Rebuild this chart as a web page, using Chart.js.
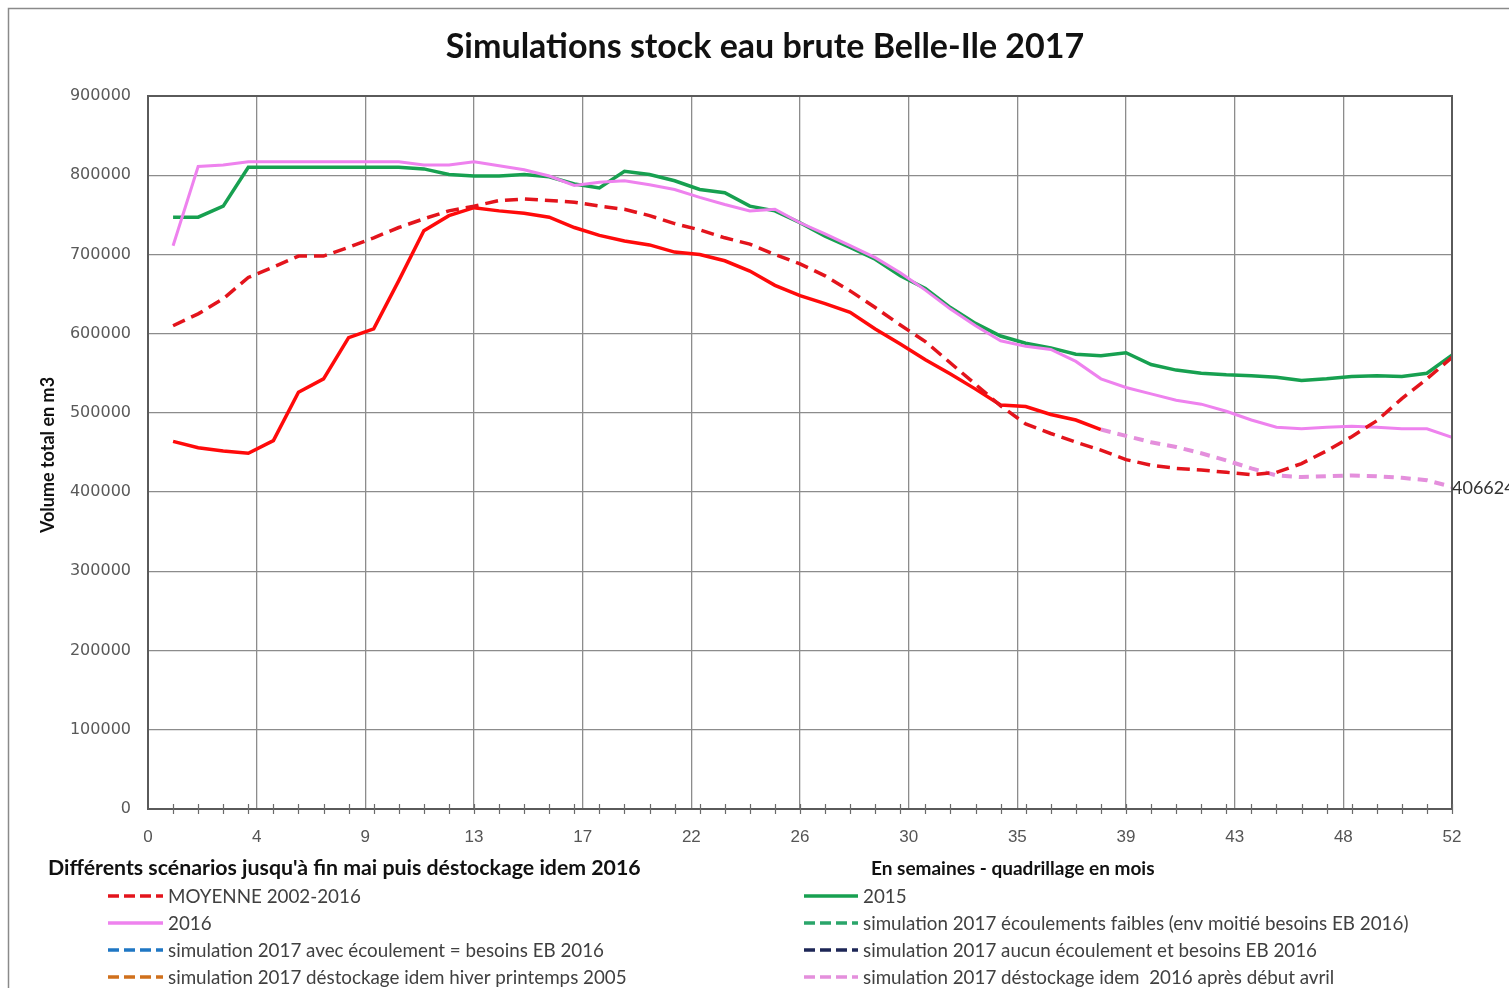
<!DOCTYPE html>
<html>
<head>
<meta charset="utf-8">
<title>Simulations stock eau brute Belle-Ile 2017</title>
<script src="https://cdn.jsdelivr.net/npm/chart.js@4.4.0/dist/chart.umd.min.js"></script>
<style>
    html, body { margin: 0; padding: 0; background: #fff; overflow: hidden; }
</style>
</head>
<body>
<canvas id="chart" width="1509" height="988"></canvas>
<script>
// Weeks of the year (x values)
const WEEKS = [1, 2, 3, 4, 5, 6, 7, 8, 9, 10, 11, 12, 13, 14, 15, 16, 17, 18, 19, 20, 21, 22, 23, 24, 25, 26,
    27, 28, 29, 30, 31, 32, 33, 34, 35, 36, 37, 38, 39, 40, 41, 42, 43, 44, 45, 46, 47, 48, 49, 50, 51, 52];
// Month gridlines, labelled with the week number
const MONTH_TICK_LABELS = [0, 4, 9, 13, 17, 22, 26, 30, 35, 39, 43, 48, 52];

// Volumes in m3 (one value per week, null = no value)
const STOCK_2017 = [464000, 456000, 452000, 449000, 465000, 526000, 543000, 595000, 606000, 667000,
    730000, 749000, 759000, 755000, 752000, 747000, 734000, 724000, 717000, 712000,
    703000, 700000, 692000, 679000, 661000, 648000, 638000, 627000, 606000, 587000,
    567000, 549000, 530000, 510000, 508000, 498000, 491000, 479000];
const MOYENNE = [610000, 625000, 644000, 671000, 684000, 698000, 698000, 709000, 721000, 734000,
    745000, 755000, 761000, 768000, 770000, 768000, 766000, 761000, 757000, 749000,
    739000, 731000, 721000, 713000, 700000, 688000, 673000, 654000, 633000, 611000,
    590000, 563000, 536000, 509000, 486000, 474000, 463000, 453000, 441000, 434000,
    430000, 428000, 425000, 422000, 425000, 436000, 452000, 470000, 490000, 518000,
    543000, 570000];
const STOCK_2016 = [711000, 811000, 813000, 817000, 817000, 817000, 817000, 817000, 817000, 817000,
    813000, 813000, 817000, 812000, 807000, 799000, 787000, 791000, 793000, 788000,
    782000, 772000, 763000, 755000, 757000, 740000, 726000, 711000, 696000, 677000,
    655000, 631000, 610000, 591000, 584000, 580000, 565000, 543000, 532000, 524000,
    516000, 511000, 502000, 491000, 482000, 480000, 482000, 483000, 482000, 480000,
    480000, 469000];
const STOCK_2015 = [747000, 747000, 761000, 810000, 810000, 810000, 810000, 810000, 810000, 810000,
    808000, 801000, 799000, 799000, 801000, 798000, 789000, 784000, 805000, 801000,
    793000, 782000, 778000, 761000, 755000, 740000, 723000, 709000, 694000, 673000,
    657000, 633000, 613000, 597000, 588000, 582000, 574000, 572000, 576000, 561000,
    554000, 550000, 548000, 547000, 545000, 541000, 543000, 546000, 547000, 546000,
    550000, 573000];
// "déstockage idem 2016 après début avril" starts where 2017 stops (week 38)
const SIM_AVRIL = [null, null, null, null, null, null, null, null, null, null,
    null, null, null, null, null, null, null, null, null, null,
    null, null, null, null, null, null, null, null, null, null,
    null, null, null, null, null, null, null, 479000, 471000, 463000,
    457000, 449000, 440000, 430000, 421000, 419000, 420000, 421000, 420000, 418000,
    415000, 406624];

const TITLE = 'Simulations stock eau brute Belle-Ile 2017';
const Y_TITLE = 'Volume total en m3';
const LEFT_HEADING = "Différents scénarios jusqu'à fin mai puis déstockage idem 2016";
const X_TITLE = 'En semaines - quadrillage en mois';

function toPoints(values) {
    return WEEKS.map((w, i) => ({ x: w, y: values[i] === undefined ? null : values[i] }));
}

const dashed = [13, 7];

const datasets = [
    { label: 'MOYENNE 2002-2016', data: toPoints(MOYENNE), borderColor: '#e3141c', borderDash: dashed, borderWidth: 3.5 },
    { label: '2016', data: toPoints(STOCK_2016), borderColor: '#ee82ee', borderWidth: 3 },
    { label: 'simulation 2017 avec écoulement = besoins EB 2016', data: [], borderColor: '#1f77c4', borderDash: dashed, borderWidth: 3.5 },
    { label: 'simulation 2017 déstockage idem hiver printemps 2005', data: [], borderColor: '#d0701c', borderDash: dashed, borderWidth: 3.5 },
    { label: '2015', data: toPoints(STOCK_2015), borderColor: '#17a050', borderWidth: 3.5 },
    { label: 'simulation 2017 écoulements faibles (env moitié besoins EB 2016)', data: [], borderColor: '#2aa56a', borderDash: dashed, borderWidth: 3.5 },
    { label: 'simulation 2017 aucun écoulement et besoins EB 2016', data: [], borderColor: '#1d2656', borderDash: dashed, borderWidth: 3.5 },
    { label: 'simulation 2017 déstockage idem  2016 après début avril', data: toPoints(SIM_AVRIL), borderColor: '#e48fdc', borderDash: [10, 7], borderWidth: 4, endLabel: true },
    { label: '2017', data: toPoints(STOCK_2017), borderColor: '#ff0a0a', borderWidth: 3.5, hideInLegend: true }
];
datasets.forEach(ds => {
    ds.pointRadius = 0;
    ds.tension = 0;
    ds.fill = false;
    ds.spanGaps = false;
});

const decor = {
    id: 'decor',
    beforeDraw(chart) {
        const ctx = chart.ctx;
        ctx.save();
        ctx.fillStyle = '#fff';
        ctx.fillRect(0, 0, chart.width, chart.height);
        // outer chart frame (continues past the picture on the right/bottom)
        ctx.strokeStyle = '#8a8a8a';
        ctx.lineWidth = 1.5;
        ctx.strokeRect(8.5, 8.5, chart.width + 40, chart.height + 40);
        ctx.restore();
    },
    afterDatasetsDraw(chart) {
        const ctx = chart.ctx;
        const area = chart.chartArea;
        const x = chart.scales.x;
        ctx.save();
        // plot frame
        ctx.strokeStyle = '#5a5a5a';
        ctx.lineWidth = 2;
        ctx.strokeRect(area.left, area.top, area.right - area.left, area.bottom - area.top);
        // weekly minor ticks
        ctx.strokeStyle = '#6a6a6a';
        ctx.lineWidth = 1.2;
        WEEKS.forEach(w => {
            const px = Math.round(x.getPixelForValue(w)) + 0.5;
            ctx.beginPath();
            ctx.moveTo(px, area.bottom - 5);
            ctx.lineTo(px, area.bottom + 5);
            ctx.stroke();
        });
        // label on the last point of the april scenario
        chart.data.datasets.forEach((ds, i) => {
            if (!ds.endLabel) return;
            const meta = chart.getDatasetMeta(i);
            const last = meta.data[meta.data.length - 1];
            const v = ds.data[ds.data.length - 1].y;
            ctx.fillStyle = '#333';
            ctx.font = '18px Lato';
            ctx.textAlign = 'left';
            ctx.textBaseline = 'middle';
            ctx.fillText(String(v), last.x, last.y + 1);
        });
        ctx.restore();
    },
    afterDraw(chart) {
        const ctx = chart.ctx;
        ctx.save();
        // title
        ctx.fillStyle = '#111';
        ctx.font = 'bold 34px Lato';
        ctx.textAlign = 'center';
        ctx.textBaseline = 'middle';
        ctx.fillText(TITLE, 765, 47, 646);
        // y axis title
        ctx.save();
        ctx.translate(48, 455);
        ctx.rotate(-Math.PI / 2);
        ctx.font = 'bold 18px Lato';
        ctx.fillText(Y_TITLE, 0, 0, 172);
        ctx.restore();
        // headings under the axis
        ctx.textAlign = 'left';
        ctx.font = 'bold 21.3px Lato';
        ctx.fillText(LEFT_HEADING, 48, 868, 594);
        ctx.font = 'bold 19px Lato';
        ctx.fillText(X_TITLE, 871, 869, 290);
        // legend in two columns of four
        const items = chart.data.datasets.filter(ds => !ds.hideInLegend);
        const cols = [{ x0: 108, x1: 163, tx: 168 }, { x0: 804, x1: 858, tx: 863 }];
        const rows = [896, 923, 950, 977];
        ctx.font = '18.8px Lato';
        items.forEach((ds, i) => {
            const col = cols[Math.floor(i / 4)];
            const y = rows[i % 4];
            ctx.strokeStyle = ds.borderColor;
            ctx.lineWidth = 3.5;
            ctx.setLineDash(ds.borderDash ? [11, 5] : []);
            ctx.beginPath();
            ctx.moveTo(col.x0, y);
            ctx.lineTo(col.x1, y);
            ctx.stroke();
            ctx.setLineDash([]);
            ctx.fillStyle = '#404040';
            ctx.fillText(ds.label, col.tx, y + 1, 560);
        });
        ctx.restore();
    }
};

new Chart(document.getElementById('chart'), {
    type: 'line',
    data: { datasets: datasets },
    options: {
        responsive: false,
        animation: false,
        devicePixelRatio: 1,
        layout: { padding: { left: 0, right: 57, top: 96, bottom: 131 } },
        plugins: {
            legend: { display: false },
            title: { display: false },
            tooltip: { enabled: false }
        },
        scales: {
            x: {
                type: 'linear',
                min: 0,
                max: 52,
                afterBuildTicks: scale => {
                    scale.ticks = MONTH_TICK_LABELS.map((l, i) => ({ value: i * 52 / (MONTH_TICK_LABELS.length - 1) }));
                },
                afterFit: scale => { scale.height = 48; },
                ticks: {
                    autoSkip: false,
                    maxRotation: 0,
                    padding: 18,
                    color: '#555',
                    font: { family: "'Liberation Sans Narrow', 'Liberation Sans'", size: 17 },
                    callback: (v, i) => MONTH_TICK_LABELS[i]
                },
                grid: { color: '#8c8c8c', lineWidth: 1.3, drawTicks: false },
                border: { color: '#6a6a6a', width: 2 }
            },
            y: {
                min: 0,
                max: 900000,
                afterFit: scale => { scale.width = 148; },
                ticks: {
                    stepSize: 100000,
                    padding: 17,
                    color: '#595959',
                    font: { family: "'DejaVu Sans'", size: 16 },
                    callback: v => String(v)
                },
                grid: { color: '#8c8c8c', lineWidth: 1.3, drawTicks: false },
                border: { color: '#6a6a6a', width: 2 }
            }
        }
    },
    plugins: [decor]
});
</script>
</body>
</html>
